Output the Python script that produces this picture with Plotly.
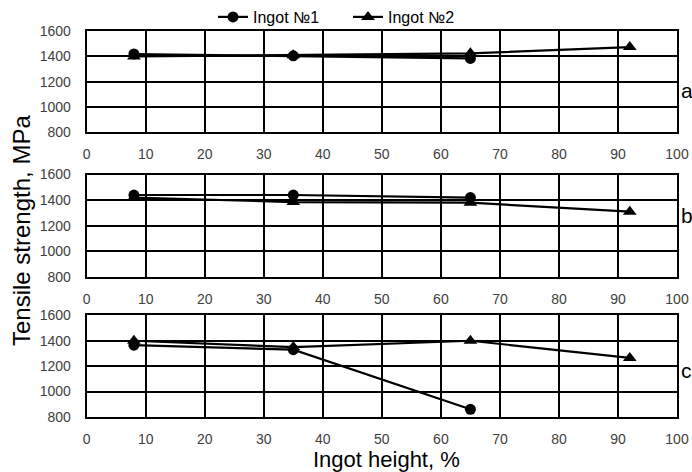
import plotly.graph_objects as go

heights = [8, 35, 65, 92]
heights1 = [8, 35, 65]

a_ingot1 = [1420, 1405, 1385]
a_ingot2 = [1400, 1410, 1425, 1475]
b_ingot1 = [1440, 1440, 1420]
b_ingot2 = [1420, 1385, 1380, 1310]
c_ingot1 = [1365, 1330, 860]
c_ingot2 = [1400, 1350, 1400, 1265]

panel_labels = ["a", "b", "c"]
label_levels = [1130, 1280, 1165]

W, H = 692, 472
domains = [(29.4, 130.7), (173.3, 276.0), (314.7, 416.7)]
xdom = [86.7 / W, 677.0 / W]

fig = go.Figure()
panels = [(a_ingot1, a_ingot2), (b_ingot1, b_ingot2), (c_ingot1, c_ingot2)]
for i, (s1, s2) in enumerate(panels):
    sfx = "" if i == 0 else str(i + 1)
    fig.add_trace(go.Scatter(
        x=heights1, y=s1, mode="lines+markers", name="Ingot №1",
        line=dict(color="black", width=2.2),
        marker=dict(symbol="circle", size=11, color="black"),
        xaxis="x" + sfx, yaxis="y" + sfx, showlegend=(i == 0), cliponaxis=False))
    fig.add_trace(go.Scatter(
        x=heights, y=s2, mode="lines+markers", name="Ingot №2",
        line=dict(color="black", width=2.2),
        marker=dict(symbol="triangle-up", size=12, color="black"),
        xaxis="x" + sfx, yaxis="y" + sfx, showlegend=(i == 0), cliponaxis=False))

tickfont = dict(family="Liberation Sans, Arial, sans-serif", size=14, color="#404040")
layout = {}
for i, (top, bot) in enumerate(domains):
    sfx = "" if i == 0 else str(i + 1)
    layout["xaxis" + sfx] = dict(
        domain=xdom, range=[0, 100], dtick=10, tick0=0,
        showgrid=True, gridcolor="black", gridwidth=2,
        showline=True, linecolor="black", linewidth=2, mirror=True,
        ticks="outside", ticklen=8, tickcolor="rgba(0,0,0,0)",
        tickfont=tickfont, anchor="y" + sfx, zeroline=False, automargin=False)
    layout["yaxis" + sfx] = dict(
        domain=[1 - bot / H, 1 - top / H], range=[800, 1600], dtick=200, tick0=800,
        showgrid=True, gridcolor="black", gridwidth=2,
        showline=True, linecolor="black", linewidth=2, mirror=True,
        ticks="outside", ticklen=11, tickcolor="rgba(0,0,0,0)",
        tickfont=tickfont, anchor="x" + sfx, zeroline=False, automargin=False)

annotations = []
for i, (lab, lev) in enumerate(zip(panel_labels, label_levels)):
    sfx = "" if i == 0 else str(i + 1)
    annotations.append(dict(
        text=lab, x=679.0 / W, xref="paper", xanchor="left",
        y=lev, yref="y" + sfx, yanchor="middle", showarrow=False,
        font=dict(family="Liberation Sans, Arial, sans-serif", size=21, color="black")))

annotations.append(dict(
    text="Ingot height, %", x=386 / W, y=1 - 459 / H, xref="paper", yref="paper",
    xanchor="center", yanchor="middle", showarrow=False,
    font=dict(family="Liberation Sans, Arial, sans-serif", size=22, color="black")))
annotations.append(dict(
    text="Tensile strength, MPa", x=21 / W, y=1 - 230 / H, xref="paper", yref="paper",
    xanchor="center", yanchor="middle", showarrow=False, textangle=-90,
    font=dict(family="Liberation Sans, Arial, sans-serif", size=24, color="black")))

fig.update_layout(
    width=W, height=H,
    margin=dict(l=0, r=0, t=0, b=0),
    paper_bgcolor="white", plot_bgcolor="white",
    showlegend=True,
    legend=dict(orientation="h", x=348 / W, xanchor="center", y=1 - 15 / H, yanchor="middle",
                font=dict(family="Liberation Sans, Arial, sans-serif", size=16, color="black"),
                bgcolor="rgba(0,0,0,0)", itemwidth=30, tracegroupgap=0,
                entrywidth=90, entrywidthmode="pixels"),
    annotations=annotations,
    **layout)

fig.write_html("out.html", config={"displayModeBar": False},
               post_script="document.body.style.margin='0';document.body.style.overflow='hidden';")
